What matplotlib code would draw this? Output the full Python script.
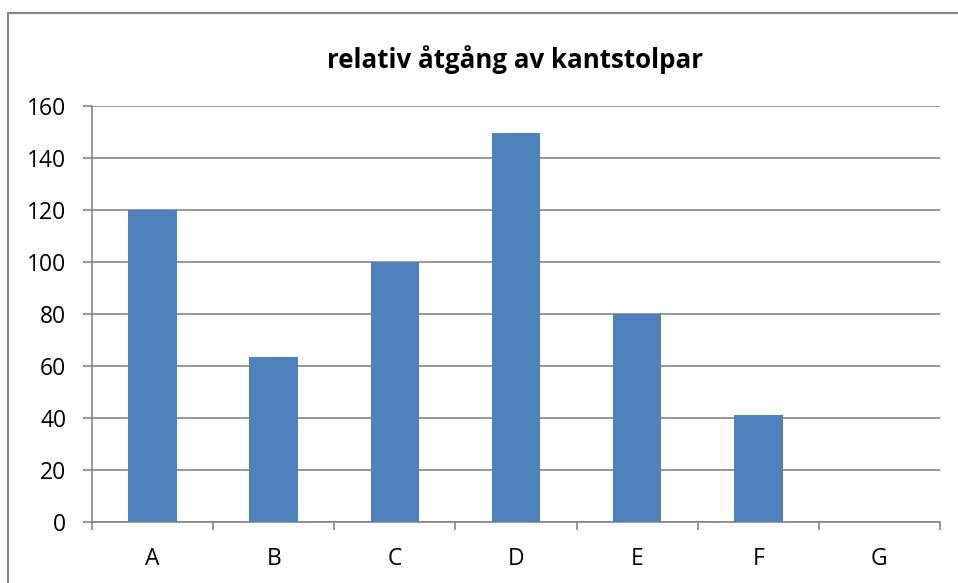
import matplotlib
matplotlib.use("Agg")
import matplotlib.pyplot as plt
import numpy as np
from matplotlib.patches import Rectangle

# data
categories = ["A", "B", "C", "D", "E", "F", "G"]
values = [120, 63.3, 100, 149.7, 80, 41.2, 0]
title = "relativ åtgång av kantstolpar"

plt.rcParams['font.family'] = ['Open Sans', 'DejaVu Sans']

W, H = 958, 583
fig = plt.figure(figsize=(W / 100, H / 100), dpi=100)
ax = fig.add_axes([92 / W, 1 - 522 / H, (940 - 92) / W, (522 - 106) / H])

x = np.arange(len(categories))
ax.bar(x, values, width=0.4, color="#4F81BD", zorder=3)

ax.set_xlim(-0.5, len(categories) - 0.5)
ax.set_ylim(0, 160)
ax.set_yticks(np.arange(0, 161, 20))
ax.yaxis.grid(True, color="#868686", linewidth=1.2, zorder=0)

ax.set_xticks(x)
ax.set_xticklabels(categories)
ax.set_xticks(np.arange(-0.5, len(categories)), minor=True)
ax.tick_params(axis="x", which="major", length=0, pad=18, labelsize=16.5)
ax.tick_params(axis="x", which="minor", length=6, width=1.2, color="#868686",
               direction="out")
ax.tick_params(axis="y", length=6.5, width=1.2, color="#868686", pad=12,
               labelsize=16.5)

for s in ["top", "right"]:
    ax.spines[s].set_visible(False)
for s in ["left", "bottom"]:
    ax.spines[s].set_color("#868686")
    ax.spines[s].set_linewidth(1.2)

fig.text(515 / W, 1 - 60 / H, title, ha="center", va="center",
         fontsize=18.6, fontweight="bold")

# chart border
fig.patches.append(Rectangle((8 / W, -0.1), 1.2, 1 - 13 / H + 0.1,
                             transform=fig.transFigure, fill=False,
                             edgecolor="#868686", linewidth=1.5))

fig.savefig("out.png", dpi=100)
